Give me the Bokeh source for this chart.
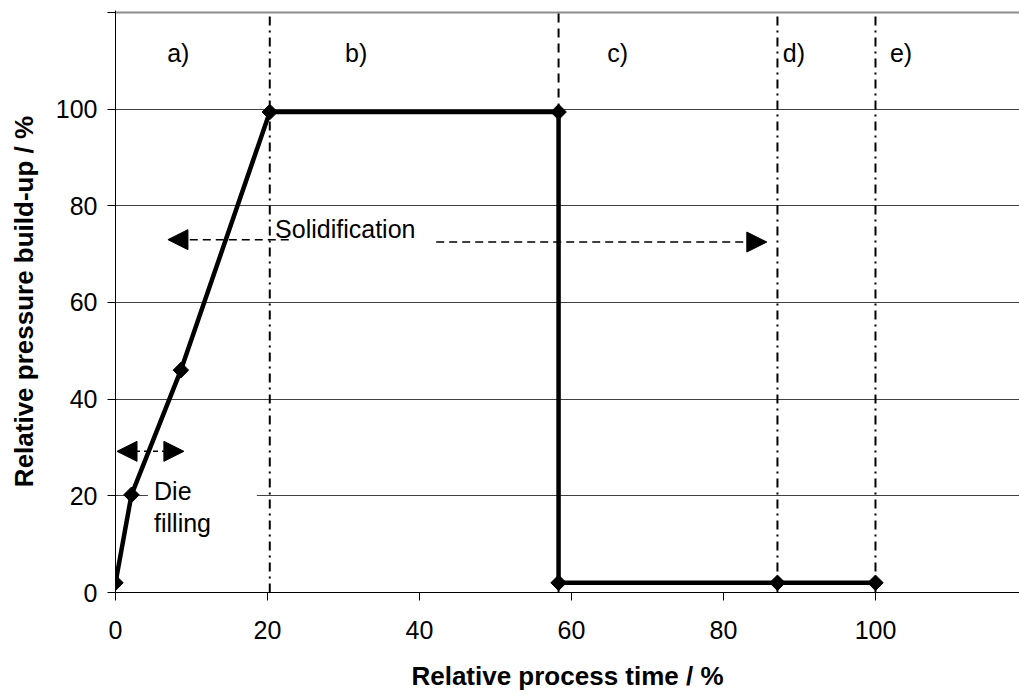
from math import pi

from bokeh.core.properties import value
from bokeh.embed import file_html
from bokeh.models import Arrow, FixedTicker, Label, NormalHead, Range1d, Span
from bokeh.plotting import figure
from bokeh.resources import INLINE

# Pressure build-up curve over the relative process time
time_pct = [0, 2.1, 8.6, 20.3, 58.3, 58.3, 87.1, 100]
pressure_pct = [2, 20.2, 46, 99.4, 99.4, 2, 2, 2]

# Phase boundaries and their line styles
phase_bounds = [20.3, 58.3, 87.1, 100]
phase_dashes = ["9 5 2 5", "9 6", "9 5 2 5", "9 5 2 5"]

# Phase captions along the top
phase_names = ["a)", "b)", "c)", "d)", "e)"]
phase_name_x = [6.8, 30.2, 64.7, 87.8, 101.9]
phase_name_y = [111.7] * 5

x_ticks = [0, 20, 40, 60, 80, 100]
y_ticks = [0, 20, 40, 60, 80, 100, 120]
y_grid = [20, 40, 60, 80, 100]
y_top = 120

FONT = "Liberation Sans"

p = figure(width=1019, height=695, output_backend="svg", toolbar_location=None,
           x_range=Range1d(0, 118.95), y_range=Range1d(0, 120.4),
           min_border_left=115, min_border_right=0, min_border_top=10,
           min_border_bottom=103)
p.outline_line_color = None
p.background_fill_color = "white"
p.border_fill_color = "white"

# Axes
for ax in (p.xaxis[0], p.yaxis[0]):
    ax.axis_line_color = "black"
    ax.axis_line_width = 1
    ax.major_tick_line_color = "black"
    ax.major_tick_out = 8
    ax.major_tick_in = 0
    ax.minor_tick_line_color = None
    ax.major_label_text_font = FONT
    ax.major_label_text_font_size = "25px"
    ax.major_label_text_color = "black"
    ax.axis_label_text_font = FONT
    ax.axis_label_text_font_size = "26px"
    ax.axis_label_text_font_style = "bold"
    ax.axis_label_text_color = "black"

p.xaxis.ticker = FixedTicker(ticks=x_ticks)
p.xaxis.major_label_standoff = 20
p.xaxis.axis_label = "Relative process time / %"
p.xaxis.axis_label_standoff = 19

p.yaxis.ticker = FixedTicker(ticks=y_ticks)
p.yaxis.major_label_overrides = {120: ""}
p.yaxis.major_label_standoff = 10
p.yaxis.axis_label = "Relative pressure build-up / %"
p.yaxis.axis_label_standoff = 14

# Grid
p.xgrid.grid_line_color = None
p.ygrid.ticker = FixedTicker(ticks=y_grid)
p.ygrid.grid_line_color = "#404040"
p.ygrid.grid_line_width = 1

# Upper border of the plot area
p.add_layout(Span(location=y_top, dimension="width", line_color="#8c8c8c",
                  line_width=2, level="underlay"))

# Phase boundaries
for xb, dash in zip(phase_bounds, phase_dashes):
    p.segment(x0=[xb], y0=[0], x1=[xb], y1=[y_top], line_color="black",
              line_width=2, line_dash=dash)

# White backing for the "Die filling" note
p.quad(left=[4.26], right=[18.6], bottom=[17], top=[23],
       fill_color="white", line_color=None)

# Curve
p.line(time_pct, pressure_pct, line_color="black", line_width=4.5,
       line_join="miter")
p.scatter(time_pct, pressure_pct, marker="square", angle=pi / 4, size=11,
          fill_color="black", line_color="black")

# Phase captions
p.text(phase_name_x, phase_name_y, text=phase_names, text_font=value(FONT),
       text_font_size="25px", text_baseline="middle", text_align="left",
       text_color="black")

# Annotations
p.add_layout(Label(x=21.0, y=75.3, text="Solidification", text_font=FONT,
                   text_font_size="25px", text_baseline="middle",
                   text_color="black"))
p.add_layout(Label(x=5.07, y=21.1, text="Die", text_font=FONT,
                   text_font_size="25px", text_baseline="middle",
                   text_color="black"))
p.add_layout(Label(x=5.07, y=14.3, text="filling", text_font=FONT,
                   text_font_size="25px", text_baseline="middle",
                   text_color="black"))

head = dict(size=20, fill_color="black", line_color="black", line_width=1)
p.add_layout(Arrow(end=NormalHead(**head), x_start=22.8, y_start=73.0,
                   x_end=6.9, y_end=73.0, line_color="black",
                   line_width=1.5, line_dash="8 5"))
p.add_layout(Arrow(end=NormalHead(**head), x_start=42.2, y_start=72.5,
                   x_end=85.7, y_end=72.5, line_color="black",
                   line_width=1.5, line_dash="8 5"))
p.add_layout(Arrow(start=NormalHead(**head), end=NormalHead(**head),
                   x_start=0.2, y_start=29.2, x_end=9.0, y_end=29.2,
                   line_color="black", line_width=1.5, line_dash="5 4"))

open("out.html", "w").write(file_html(p, INLINE))
